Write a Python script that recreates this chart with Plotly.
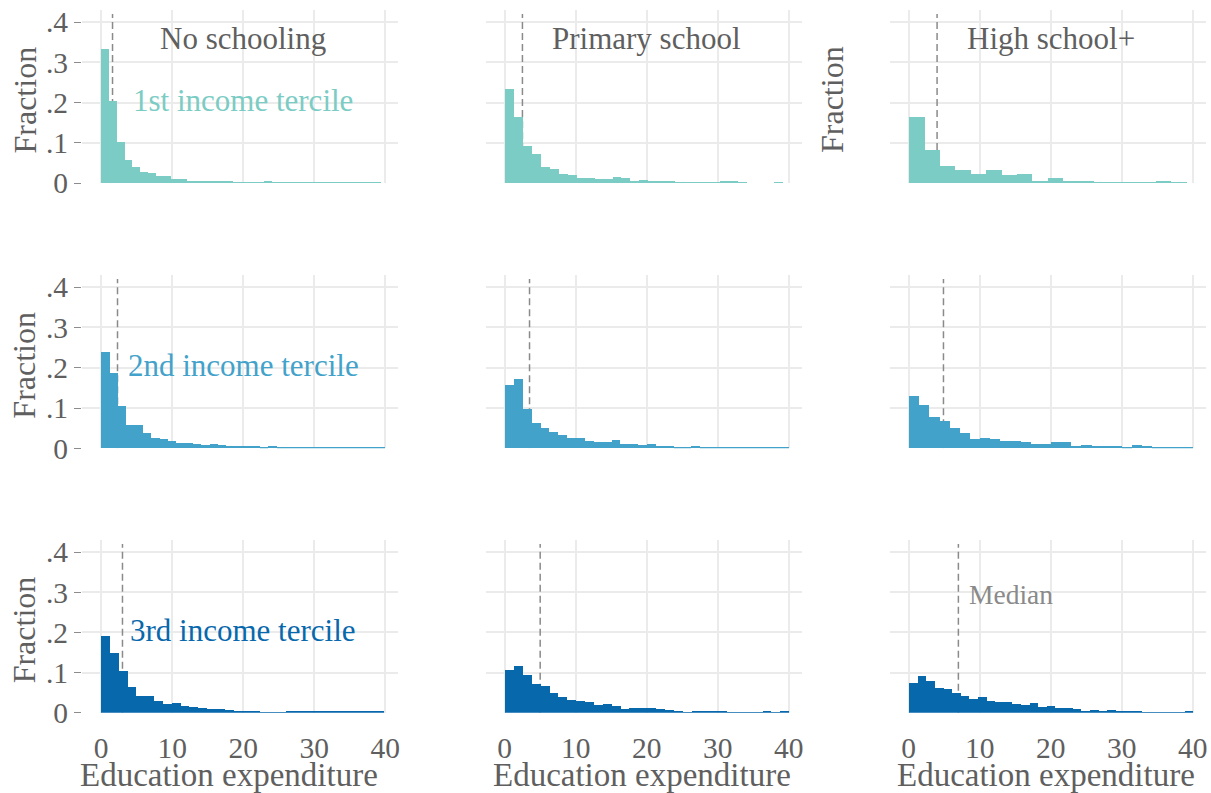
import plotly.graph_objects as go

# ---- data: fraction per histogram bin ----
ROWS = ["1st income tercile", "2nd income tercile", "3rd income tercile"]
COLS = ["No schooling", "Primary school", "High school+"]

# bin widths (education expenditure units) per panel, row-major
BIN_WIDTH = [1.095, 1.26, 2.17, 1.176, 1.248, 1.427, 1.2425, 1.25, 1.212]

# medians per panel, row-major
MEDIAN = [1.6, 2.5, 4.0, 2.3, 3.5, 4.9, 3.0, 5.0, 7.0]

frac_t1_none = [0.332, 0.204, 0.102, 0.058, 0.040, 0.027, 0.025, 0.018, 0.018,
                0.009, 0.009, 0.006, 0.004, 0.004, 0.004, 0.004, 0.004, 0.002,
                0.002, 0.002, 0.002, 0.003, 0.002, 0.002, 0.002, 0.002, 0.002,
                0.002, 0.002, 0.002, 0.002, 0.002, 0.002, 0.002, 0.002, 0.002]
frac_t1_prim = [0.234, 0.164, 0.092, 0.072, 0.039, 0.036, 0.022, 0.019, 0.012,
                0.013, 0.009, 0.009, 0.014, 0.012, 0.004, 0.007, 0.004, 0.0025,
                0.004, 0.002, 0.002, 0.002, 0.002, 0.002, 0.004, 0.0025, 0.002,
                0.0, 0.0, 0.0, 0.002]
frac_t1_high = [0.164, 0.082, 0.0425, 0.032, 0.022, 0.032, 0.019, 0.022, 0.006,
                0.012, 0.0035, 0.0035, 0.001, 0.002, 0.002, 0.002, 0.004, 0.002]

frac_t2_none = [0.239, 0.188, 0.104, 0.057, 0.057, 0.037, 0.026, 0.023, 0.019,
                0.0125, 0.012, 0.011, 0.009, 0.010, 0.008, 0.0067, 0.0067, 0.0067,
                0.005, 0.004, 0.006, 0.004, 0.003, 0.003, 0.004, 0.003, 0.003,
                0.004, 0.003, 0.003, 0.003, 0.003, 0.003, 0.004]
frac_t2_prim = [0.157, 0.171, 0.098, 0.064, 0.051, 0.041, 0.034, 0.026, 0.026,
                0.018, 0.016, 0.016, 0.021, 0.011, 0.011, 0.009, 0.011, 0.006,
                0.006, 0.0033, 0.0033, 0.006, 0.0033, 0.003, 0.003, 0.003, 0.003,
                0.003, 0.003, 0.003, 0.003, 0.003]
frac_t2_high = [0.131, 0.108, 0.078, 0.068, 0.051, 0.038, 0.023, 0.026, 0.023,
                0.018, 0.018, 0.016, 0.011, 0.011, 0.016, 0.016, 0.006, 0.008,
                0.006, 0.006, 0.006, 0.003, 0.008, 0.006, 0.003, 0.003, 0.003,
                0.003]

frac_t3_none = [0.192, 0.149, 0.104, 0.065, 0.0425, 0.0425, 0.029, 0.0225, 0.024,
                0.0175, 0.014, 0.0125, 0.009, 0.009, 0.0067, 0.005, 0.005, 0.0033,
                0.0017, 0.0017, 0.0017, 0.004, 0.002, 0.002, 0.002, 0.002, 0.002,
                0.002, 0.002, 0.002, 0.002, 0.002]
frac_t3_prim = [0.107, 0.117, 0.095, 0.072, 0.067, 0.049, 0.040, 0.032, 0.029,
                0.026, 0.018, 0.022, 0.017, 0.010, 0.012, 0.011, 0.011, 0.008,
                0.006, 0.0033, 0.0017, 0.004, 0.0025, 0.0025, 0.0025, 0.0017,
                0.0017, 0.0017, 0.0017, 0.0025, 0.0017, 0.0025]
frac_t3_high = [0.075, 0.0925, 0.079, 0.062, 0.059, 0.049, 0.041, 0.034, 0.039,
                0.029, 0.026, 0.026, 0.0225, 0.020, 0.024, 0.014, 0.017, 0.012,
                0.0125, 0.009, 0.005, 0.006, 0.005, 0.0067, 0.0025, 0.004, 0.004,
                0.0017, 0.0017, 0.001, 0.0017, 0.0017, 0.0033]

FRACTIONS = [frac_t1_none, frac_t1_prim, frac_t1_high,
             frac_t2_none, frac_t2_prim, frac_t2_high,
             frac_t3_none, frac_t3_prim, frac_t3_high]

ROW_COLORS = ["#7bccc4", "#43a2ca", "#0868ac"]
X_TICKS = [0, 10, 20, 30, 40]
Y_TICKS = [0, 0.1, 0.2, 0.3, 0.4]
Y_TICKTEXT = ["0", ".1", ".2", ".3", ".4"]

FONT = "Liberation Serif"
GRID = "#ebebeb"
TEXT = "#5f5f5f"

# figure fills the whole window (body margin is reset after plotting)
FW, FH = 1211, 793


def px_x(p):
    return p / FW


def px_y(p):
    return 1 - p / FH


# panel geometry in screenshot pixels
COL_PX = [(82, 398), (485.5, 801.5), (889.5, 1205.5)]
ROW_PX = [(10, 183), (275, 448.3), (540, 712.7)]
X_RANGE = [-2.7, 41.8]
Y_RANGE = [0, 0.43]

fig = go.Figure()
layout = dict(
    width=FW, height=FH,
    margin=dict(l=0, r=0, t=0, b=0, pad=0, autoexpand=False),
    plot_bgcolor="white", paper_bgcolor="white",
    showlegend=False, bargap=0,
    font=dict(family=FONT, size=29, color=TEXT),
)
annotations = []
shapes = []

for r in range(3):
    for c in range(3):
        i = r * 3 + c
        n = i + 1
        xa = "x" if n == 1 else f"x{n}"
        ya = "y" if n == 1 else f"y{n}"
        fr = FRACTIONS[i]
        w = BIN_WIDTH[i]
        centers = [w * (k + 0.5) for k in range(len(fr))]
        fig.add_trace(go.Bar(
            x=centers, y=fr, width=w, xaxis=xa, yaxis=ya,
            marker=dict(color=ROW_COLORS[r], line=dict(width=0)),
            hovertemplate="%{y:.3f}<extra></extra>",
        ))
        x0, x1 = COL_PX[c]
        y0, y1 = ROW_PX[r]
        layout["xaxis" if n == 1 else f"xaxis{n}"] = dict(
            domain=[px_x(x0), min(px_x(x1), 1)], range=X_RANGE, anchor=ya,
            tickvals=X_TICKS, showticklabels=(r == 2), automargin=False,
            ticklabeloverflow="allow",
            ticks="outside" if r == 2 else "", ticklen=9, tickcolor="rgba(0,0,0,0)",
            tickfont=dict(size=29.5, color=TEXT),
            showgrid=True, gridcolor=GRID, gridwidth=1.5,
            zeroline=False, showline=False, fixedrange=True,
        )
        layout["yaxis" if n == 1 else f"yaxis{n}"] = dict(
            domain=[px_y(y1), px_y(y0)], range=Y_RANGE, anchor=xa,
            tickvals=Y_TICKS, ticktext=Y_TICKTEXT, showticklabels=(c == 0),
            automargin=False, ticklabeloverflow="allow",
            ticks="outside" if c == 0 else "", ticklen=7, tickcolor="#8c8c8c",
            tickwidth=1.2, tickfont=dict(size=29.5, color=TEXT),
            showgrid=True, gridcolor=GRID, gridwidth=1.5,
            zeroline=False, showline=False, fixedrange=True,
        )
        # median marker, drawn between grid and bars
        shapes.append(dict(
            type="line", xref=xa, yref=ya, x0=MEDIAN[i], x1=MEDIAN[i],
            y0=0, y1=0.42, layer="between",
            line=dict(color="#8a8a8a", width=1.5, dash="7px,4px"),
        ))
        if r == 0:
            annotations.append(dict(
                xref=xa, yref=ya, x=20, y=0.36, text=COLS[c], showarrow=False,
                font=dict(size=31, color=TEXT), xanchor="center", yanchor="middle",
            ))
        if c == 0:
            annotations.append(dict(
                xref=xa, yref=ya, x=20, y=0.205, text=ROWS[r], showarrow=False,
                font=dict(size=31, color=ROW_COLORS[r]),
                xanchor="center", yanchor="middle",
            ))
            annotations.append(dict(
                xref="paper", yref="paper", x=px_x(24), y=px_y((y0 + y1) / 2 + 4),
                text="Fraction", textangle=-90, showarrow=False,
                font=dict(size=32, color=TEXT), xanchor="center", yanchor="middle",
            ))
        if r == 2:
            annotations.append(dict(
                xref="paper", yref="paper", x=px_x([229, 642, 1046][c]), y=px_y(775),
                text="Education expenditure", showarrow=False,
                font=dict(size=33, color=TEXT), xanchor="center", yanchor="middle",
            ))

# the top-right panel carries its own axis title in the reference
annotations.append(dict(
    xref="paper", yref="paper", x=px_x(832), y=px_y(100),
    text="Fraction", textangle=-90, showarrow=False,
    font=dict(size=32, color=TEXT), xanchor="center", yanchor="middle",
))
annotations.append(dict(
    xref="x9", yref="y9", x=MEDIAN[8] + 1.2, y=0.295, text="Median",
    showarrow=False, font=dict(size=27.5, color="#8a8a8a"),
    xanchor="left", yanchor="middle",
))

layout["annotations"] = annotations
layout["shapes"] = shapes
fig.update_layout(**layout)
fig.write_html(
    "out.html",
    config={"displayModeBar": False},
    post_script="document.body.style.margin='0'; document.body.style.overflow='hidden';",
)
